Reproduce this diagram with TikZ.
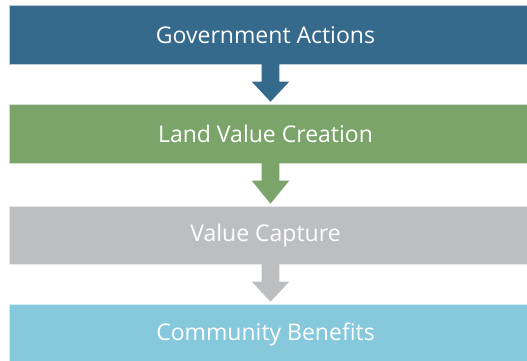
\documentclass[tikz,border=0pt]{standalone}
\usepackage{fontspec}
\setmainfont{Open Sans}
\usetikzlibrary{calc}
\definecolor{cgov}{HTML}{356A8D}
\definecolor{cland}{HTML}{7BA46A}
\definecolor{ccap}{HTML}{BDBEC0}
\definecolor{ccom}{HTML}{86C8DC}
\tikzset{
  stagebox/.style={draw=#1!35!white, line width=0.7pt, fill=#1, text=white,
    minimum width=517.7pt, inner sep=0pt, anchor=north west,
    font=\fontsize{23}{26}\selectfont, execute at end node={\hspace*{6pt}}},
  flowarrow/.style={fill=#1}
}
\begin{document}
\begin{tikzpicture}[x=1pt,y=1pt]
\useasboundingbox (0,0) rectangle (527,-361);
\fill[white] (0,0) rectangle (527,-361);
\node[stagebox=cgov, minimum height=59pt] (b1) at (9.3,-5) {Government Actions};
\node[stagebox=cland, minimum height=59pt] (b2) at (9.3,-104) {Land Value Creation};
\node[stagebox=ccap, minimum height=58pt] (b3) at (9.3,-206) {Value Capture};
\node[stagebox=ccom, minimum height=60pt] (b4) at (9.3,-304) {Community Benefits};
\coordinate (ax) at (270.5,0);
\foreach \a/\b/\c in {b1/b2/cgov, b2/b3/cland, b3/b4/ccap}{
  \fill[flowarrow=\c] ($(\a.south -| ax)+(-8.8,0.5)$) -- ($(\a.south -| ax)+(-8.8,-17)$)
    -- ($(\a.south -| ax)+(-18.7,-17)$) -- ($(\b.north -| ax)+(0,2.3)$)
    -- ($(\a.south -| ax)+(18.7,-17)$) -- ($(\a.south -| ax)+(8.8,-17)$)
    -- ($(\a.south -| ax)+(8.8,0.5)$) -- cycle;
}
\end{tikzpicture}
\end{document}
